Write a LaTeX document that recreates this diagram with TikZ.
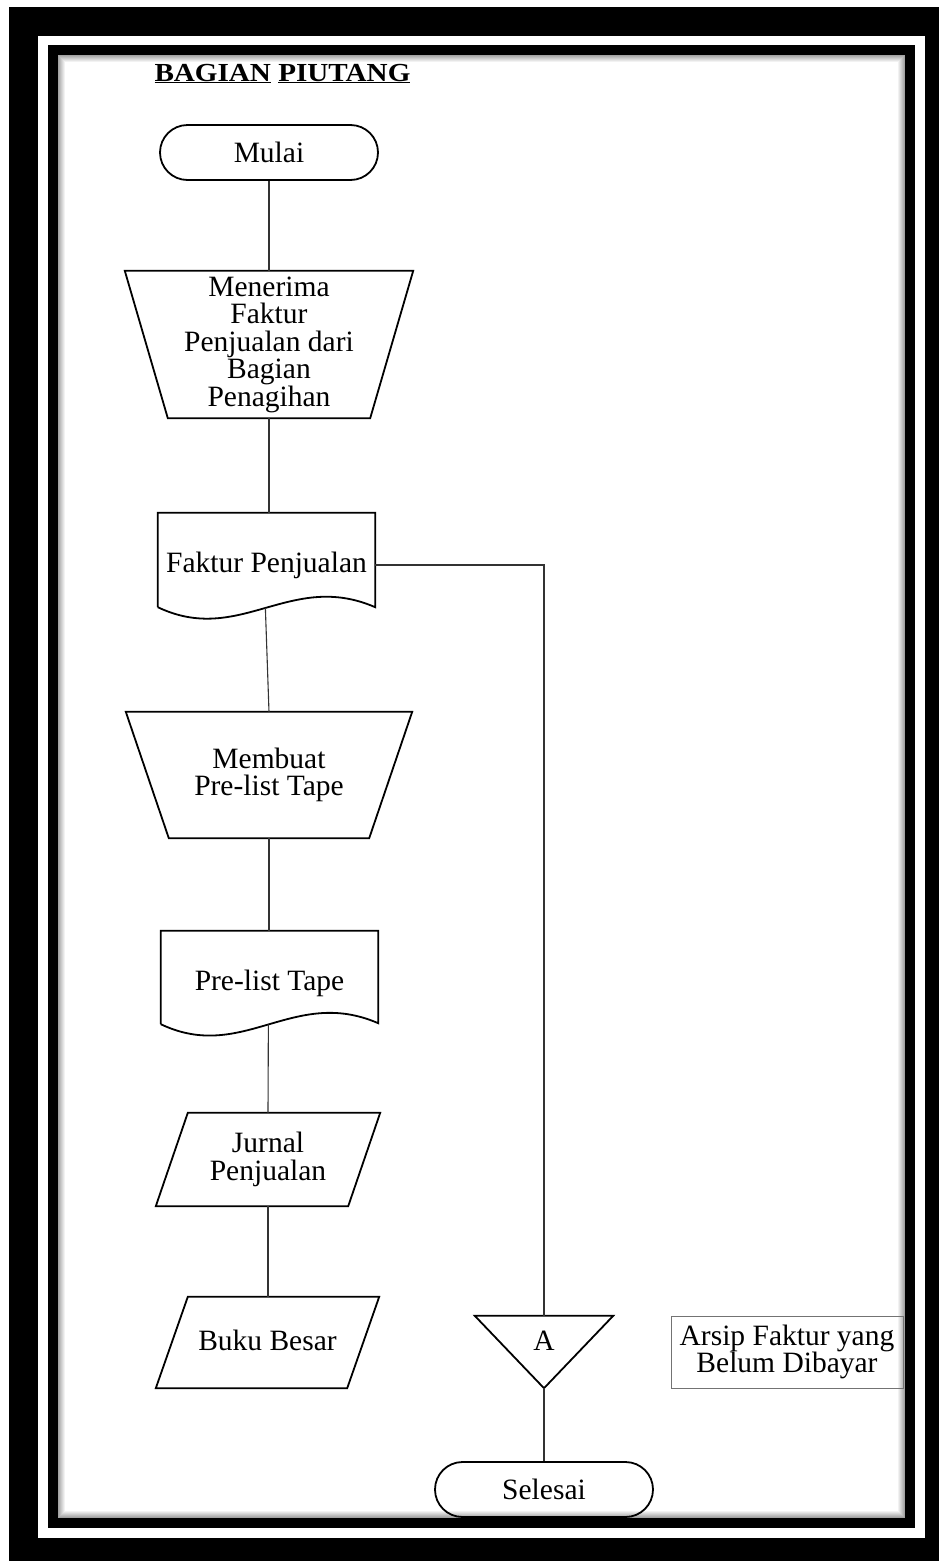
\documentclass[tikz,border=0pt]{standalone}
\usepackage{fontspec}
\setmainfont{Liberation Serif}
\newfontfamily\titlefont[FakeStretch=1.12]{Liberation Serif}
\usetikzlibrary{calc}

\begin{document}
\begin{tikzpicture}[x=1pt, y=-1pt,
  every node/.style={font=\fontsize{29.5}{27.5}\selectfont},
  shapeline/.style={draw=black, line width=1.8pt, line join=miter},
  link/.style={draw=black!80, line width=1.1pt},
  holder/.style={rectangle, inner sep=0pt, align=center},
  terminal/.style={holder, shapeline, rounded corners=27.5pt,
                   minimum width=218pt, minimum height=55pt},
  notebox/.style={holder, draw=black!55, line width=0.8pt},
]
\useasboundingbox (0,0) rectangle (939,1561);

% page frame: thick outer band, thin white gap, inner band
\fill[white] (0,0) rectangle (939,1561);
\fill[black] (9,7) rectangle (939,1561);
\fill[white] (38,36) rectangle (925,1538);
\fill[black] (48,45) rectangle (915,1528);
\fill[white] (58,55) rectangle (905,1518);
% soft inner shadow along the inner band
\foreach \i in {0,...,6} {
  \pgfmathsetmacro\op{0.36*(1-\i/7)}
  \draw[black, draw opacity=\op, line width=1pt]
    (58.5+\i,55.5+\i) rectangle (904.5-\i,1517.5-\i);
}

% heading
\node[anchor=base west, font={\titlefont\fontsize{26}{30}\selectfont\bfseries}]
  (title) at (151,81) {\underline{BAGIAN} \underline{PIUTANG}};

% start
\node[terminal] (mulai) at (269,152.5) {Mulai};

% manual operation: receive invoices
\node[holder, minimum width=288pt, minimum height=147pt] (t1) at (269,344.5)
  {Menerima\\Faktur\\Penjualan dari\\Bagian\\Penagihan};
\draw[shapeline] (t1.north west) -- (t1.north east)
  -- ($(t1.south east)+(-43,0)$) -- ($(t1.south west)+(43,0)$) -- cycle;

% document: sales invoice
\node[holder, minimum width=217pt, minimum height=104pt, text height=21pt, text depth=7pt]
  (d1) at (266.5,565) {Faktur Penjualan};
\draw[shapeline] ($(d1.south west)+(0,-10)$) -- (d1.north west) -- (d1.north east)
  -- ($(d1.south east)+(0,-10)$)
  .. controls +(-85,-37) and +(82,39) .. coordinate[pos=0.5] (d1w)
  ($(d1.south west)+(0,-10)$);

% manual operation: pre-list tape
\node[holder, minimum width=286pt, minimum height=126pt] (t2) at (269,775)
  {Membuat\\Pre-list Tape};
\draw[shapeline] (t2.north west) -- (t2.north east)
  -- ($(t2.south east)+(-43,0)$) -- ($(t2.south west)+(43,0)$) -- cycle;

% document: pre-list tape
\node[holder, minimum width=217pt, minimum height=102pt, text height=21pt, text depth=5pt]
  (d2) at (269.5,982) {Pre-list Tape};
\draw[shapeline] ($(d2.south west)+(0,-9)$) -- (d2.north west) -- (d2.north east)
  -- ($(d2.south east)+(0,-10)$)
  .. controls +(-85,-37) and +(82,39) .. coordinate[pos=0.5] (d2w)
  ($(d2.south west)+(0,-9)$);

% data: sales journal
\node[holder, minimum width=224pt, minimum height=93pt] (p1) at (268,1159.5)
  {Jurnal\\Penjualan};
\draw[shapeline] ($(p1.north west)+(32,0)$) -- (p1.north east)
  -- ($(p1.south east)+(-32,0)$) -- (p1.south west) -- cycle;

% data: general ledger
\node[holder, minimum width=223pt, minimum height=91pt, text height=21pt, text depth=5pt]
  (p2) at (267.5,1342.5) {Buku Besar};
\draw[shapeline] ($(p2.north west)+(32,0)$) -- (p2.north east)
  -- ($(p2.south east)+(-32,0)$) -- (p2.south west) -- cycle;

% off-line file A
\node[holder, minimum width=138pt, minimum height=50pt] (tri) at (544,1341) {A};
\coordinate (apex) at ($(tri.south)+(0,22)$);
\draw[shapeline] (tri.north west) -- (tri.north east) -- (apex) -- cycle;

% note beside the file
\node[notebox, minimum width=232pt, minimum height=72pt] (note) at (787,1352)
  {Arsip Faktur yang\\Belum Dibayar};

% end
\node[terminal] (selesai) at (544,1489.5) {Selesai};

% flow lines
\draw[link] (mulai) -- (t1);
\draw[link] (t1.south) -- (t1.south |- d1.north);
\draw[link] (d1w) -- (t2.north);
\draw[link] (t2.south) -- (t2.south |- d2.north);
\draw[link] (d2w) -- (p1.north);
\draw[link] (p1.south) -- (p1.south |- p2.north);
\draw[link] (d1.east) -| (tri.north);
\draw[link] (apex) -- (selesai.north);
\end{tikzpicture}
\end{document}
